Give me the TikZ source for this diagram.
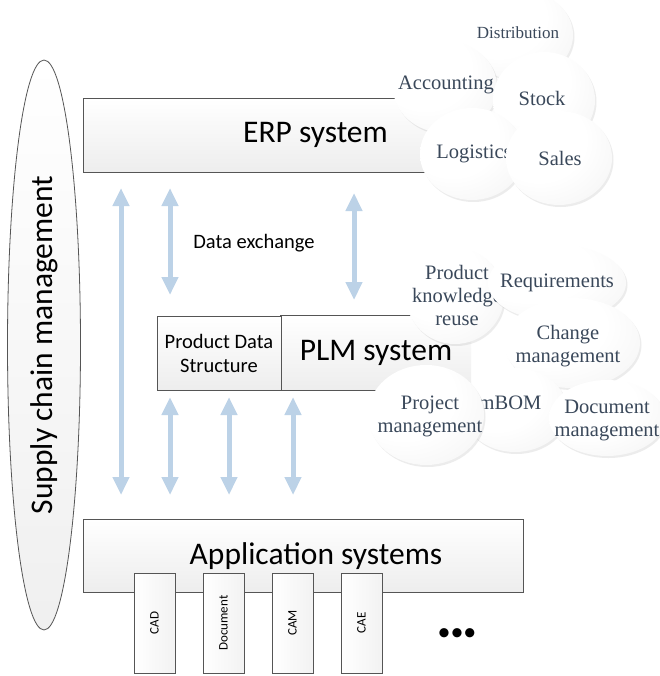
\documentclass[tikz,border=0pt]{standalone}
\usepackage{fontspec}
\setmainfont{Carlito}
\newfontfamily\bubfont{Liberation Serif}
\usetikzlibrary{arrows.meta,shadows,shapes.geometric}
\definecolor{arrowblue}{RGB}{188,210,231}
\definecolor{bubtxt}{RGB}{58,72,90}
\definecolor{edgegray}{RGB}{85,85,85}
\pgfdeclareradialshading{bubshade}{\pgfpoint{-14bp}{14bp}}{color(0bp)=(white); color(22bp)=(white); color(40bp)=(black!4); color(55bp)=(black!11); color(70bp)=(black!16)}
\tikzset{
  box/.style={draw=edgegray, line width=0.8pt, top color=white, bottom color=black!7, inner sep=0pt},
  bubble/.style={ellipse, shading=bubshade, inner sep=0pt, drop shadow={opacity=0.15, shadow xshift=1.5pt, shadow yshift=-2pt}},
  bubtext/.style={text=bubtxt, font=\bubfont\fontsize{20.5}{23}\selectfont, align=center, inner sep=0pt},
  dblarrow/.style={draw=arrowblue, line width=5pt, {Triangle[width=16pt,length=18pt]}-{Triangle[width=16pt,length=18pt]}},
  apptab/.style={draw=edgegray, line width=0.8pt, left color=white, right color=black!5, minimum width=100pt, minimum height=41pt, inner sep=0pt, rotate=90, font=\fontsize{13}{15}\selectfont},
  bigtext/.style={font=\fontsize{31.5}{36}\selectfont}
}
\begin{document}
\begin{tikzpicture}[x=1pt,y=-1pt]
\useasboundingbox (0,0) rectangle (659,676);
\fill[white] (0,0) rectangle (659,676);

% supply chain ellipse
\node[ellipse, draw=edgegray, line width=0.8pt, top color=white, bottom color=black!6, minimum width=570pt, minimum height=73pt, rotate=90, inner sep=0pt, bigtext] (scm) at (44,345) {Supply chain management};

% main boxes
\node[box, minimum width=465pt, minimum height=74pt, bigtext] (erp) at (315.5,135) {ERP system};
\node[top color=white, bottom color=black!7, minimum width=190pt, minimum height=74pt, inner sep=0pt, bigtext] (plm) at (376,353) {PLM system};
\draw[edgegray, line width=0.8pt] (plm.north east) -- (plm.north west) -- (plm.south west) -- (plm.south east);
\node[box, minimum width=124pt, minimum height=74pt, align=center, font=\fontsize{20.5}{24}\selectfont] (pds) at (219,353) {Product Data\\Structure};
\node[box, minimum width=440pt, minimum height=73pt] (app) at (303,555.5) {};
\node[bigtext, inner sep=0pt] (apptext) at (316,556) {Application systems};

% application tabs
\node[apptab] (cad) at (154.5,623) {CAD};
\node[apptab] (doc) at (223.5,623) {Document};
\node[apptab] (cam) at (292.5,623) {CAM};
\node[apptab] (cae) at (361.5,623) {CAE};
\node[font=\fontsize{26}{30}\selectfont, inner sep=0pt] (more) at (457,635) {•••};

% arrows
\coordinate (a1t) at (121,188); \coordinate (a1b) at (121,495);
\coordinate (a2t) at (170,188); \coordinate (a2b) at (170,295);
\coordinate (a3t) at (354,193); \coordinate (a3b) at (354,300);
\coordinate (b1t) at (170,397); \coordinate (b1b) at (170,495);
\coordinate (b2t) at (229,397); \coordinate (b2b) at (229,495);
\coordinate (b3t) at (293,397); \coordinate (b3b) at (293,495);
\draw[dblarrow] (a1t) -- (a1b);
\draw[dblarrow] (a2t) -- (a2b);
\draw[dblarrow] (a3t) -- (a3b);
\draw[dblarrow] (b1t) -- (b1b);
\draw[dblarrow] (b2t) -- (b2b);
\draw[dblarrow] (b3t) -- (b3b);
\node[font=\fontsize{20.5}{24}\selectfont] (dx) at (254,243) {Data exchange};

% ERP bubbles
\node[bubble, minimum width=108pt, minimum height=90pt] (distB) at (519,35) {};
\node[bubtext, font=\bubfont\fontsize{17}{20}\selectfont] (distT) at (518,33) {Distribution};
\node[bubble, minimum width=104pt, minimum height=92pt] (accB) at (445,87) {};
\node[bubtext] (accT) at (446,85) {Accounting};
\node[bubble, minimum width=102pt, minimum height=96pt] (stockB) at (544,100) {};
\node[bubtext] (stockT) at (542,98) {Stock};
\node[bubble, minimum width=104pt, minimum height=92pt] (logB) at (472,154) {};
\node[bubtext] (logT) at (474,154) {Logistics};
\node[bubble, minimum width=106pt, minimum height=94pt] (salesB) at (559,158) {};
\node[bubtext] (salesT) at (560,158) {Sales};

% PLM bubbles
\node[bubble, minimum width=98pt, minimum height=96pt] (pkrB) at (455,296) {};
\node[bubtext] (pkrT) at (457,295) {Product\\knowledge\\reuse};
\node[bubble, minimum width=138pt, minimum height=76pt] (reqB) at (557,283) {};
\node[bubtext] (reqT) at (557,283) {Requirements};
\node[bubble, minimum width=136pt, minimum height=90pt] (chgB) at (572,343) {};
\node[bubtext] (chgT) at (568,346) {Change\\management};
\node[bubble, minimum width=104pt, minimum height=84pt] (mbomB) at (515,410) {};
\node[bubtext] (mbomT) at (510,403) {mBOM};
\node[bubble, minimum width=116pt, minimum height=76pt] (docB) at (607,418) {};
\node[bubtext] (docT) at (607,420) {Document\\management};
\node[bubble, minimum width=116pt, minimum height=100pt] (projB) at (426,415) {};
\node[bubtext] (projT) at (430,416) {Project\\management};
\end{tikzpicture}
\end{document}
